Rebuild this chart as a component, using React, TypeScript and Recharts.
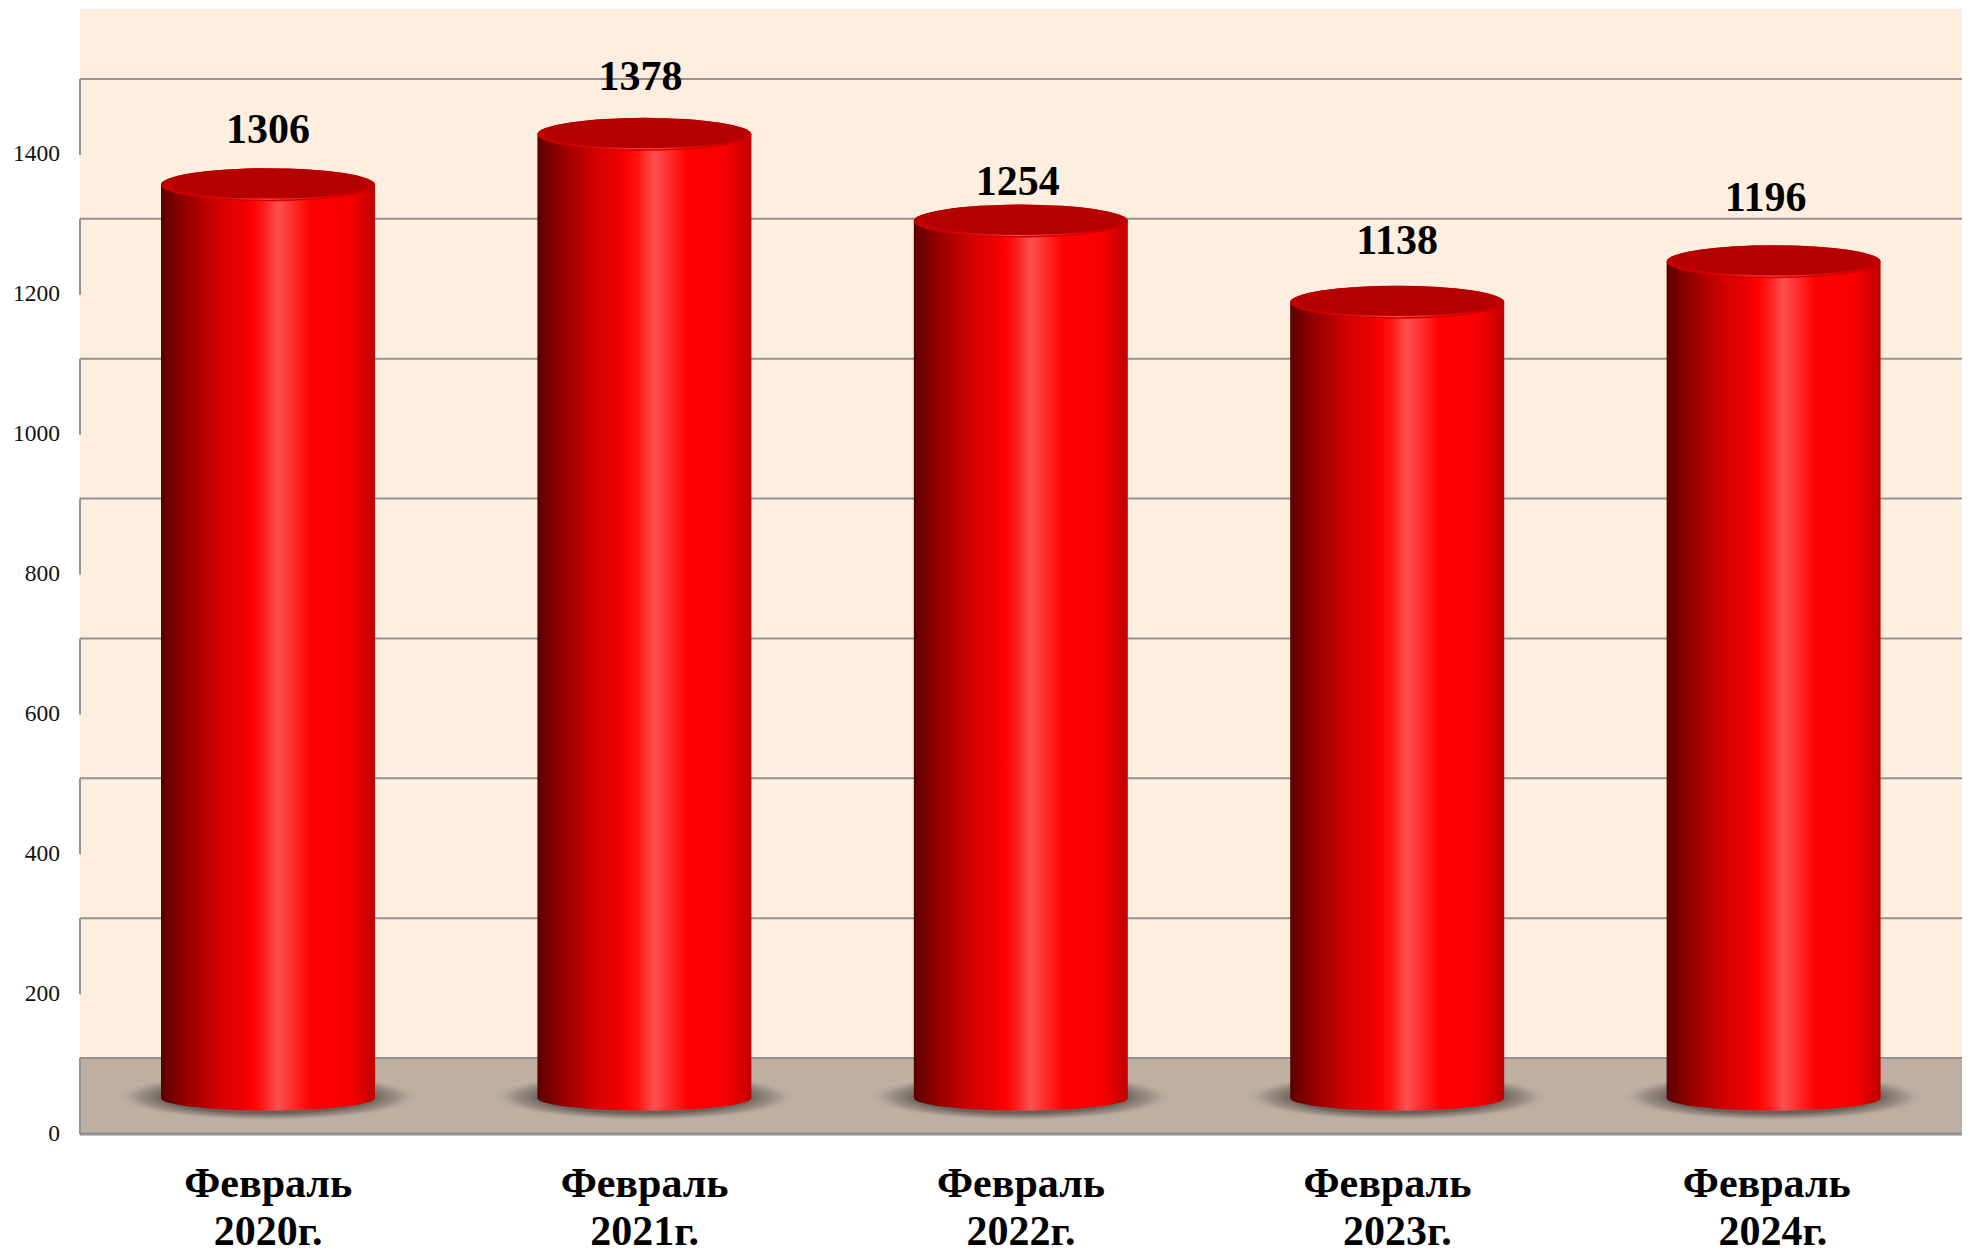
import React from "react";
import { ComposedChart, Bar, XAxis, YAxis, ReferenceArea, ReferenceLine } from "recharts";

const months = ["Февраль", "Февраль", "Февраль", "Февраль", "Февраль"];
const years = ["2020г.", "2021г.", "2022г.", "2023г.", "2024г."];
const values = [1306, 1378, 1254, 1138, 1196];
const frontTicks = [0, 200, 400, 600, 800, 1000, 1200, 1400];
const wallLines = [0, 200, 400, 600, 800, 1000, 1200, 1400];

const chartData = years.map((year, i) => ({ label: `${months[i]}\n${year}`, value: values[i] }));

// All three y axes share one px-per-unit scale; they differ only in where their zero sits (3D look).
const W = 1970, H = 1253, TOP = 9, BOTTOM_Y = 1134;
const PX_PER_UNIT = 0.6993;
const domainFor = (zeroY: number): [number, number] => [
  zeroY === BOTTOM_Y ? 0 : -(BOTTOM_Y - zeroY) / PX_PER_UNIT,
  (zeroY - TOP) / PX_PER_UNIT,
];
const frontDomain = domainFor(BOTTOM_Y);
const barDomain = domainFor(1098);
const wallDomain = domainFor(1058);
const WALL_OFFSET_PX = 75;

const labelNudgeX = [0, -4, -3, 0, -8];
const labelNudgeY = [-42, -44, -26, -48, -51];
const monthNudgeX = [0, 0, 0, -10, -7];
const yearNudgeX = [0, 0, 0, 0, -1];

const SERIF = "'Liberation Serif', 'Times New Roman', serif";
const GRID = "#949290";

const Cylinder = (props: any) => {
  const { x, y, width, height } = props;
  const rx = width / 2;
  const cx = x + rx;
  const base = y + height;
  const ryTop = 16.5;
  const ryBottom = 12.5;
  const body = `M${x},${y} L${x},${base} A${rx},${ryBottom} 0 0 0 ${x + width},${base} L${x + width},${y} A${rx},${ryTop} 0 0 0 ${x},${y} Z`;
  return (
    <g>
      <ellipse cx={cx} cy={base - 1} rx={rx + 46} ry={24} fill="url(#baseShadow)" />
      <path d={body} fill="url(#cylBody)" />
      <ellipse cx={cx} cy={y} rx={rx} ry={ryTop} fill="url(#capFill)" />
      <path d={`M${x + 12},${y + 5.5} A${rx},${ryTop} 0 0 0 ${x + width - 12},${y + 5.5}`} fill="none" stroke="url(#capRim)" strokeWidth={1.2} />
    </g>
  );
};

const renderValueLabel = (props: any) => {
  const { x, y, width, value, index } = props;
  return (
    <text
      x={x + width / 2 + labelNudgeX[index]}
      y={y + labelNudgeY[index]}
      textAnchor="middle"
      fontFamily={SERIF}
      fontWeight="bold"
      fontSize={42}
      fill="#000"
    >
      {value}
    </text>
  );
};

const renderFrontTick = (props: any) => {
  const { y, payload } = props;
  return (
    <g>
      <line x1={80} x2={80} y1={y - WALL_OFFSET_PX - 1} y2={y} stroke={GRID} strokeWidth={2} />
      <text x={60} y={y + 6.5} textAnchor="end" fontFamily={SERIF} fontSize={23.5} fill="#111">
        {payload.value}
      </text>
    </g>
  );
};

const renderCategoryTick = (props: any) => {
  const { x, y, payload, index } = props;
  const [m, yr] = String(payload.value).split("\n");
  return (
    <g>
      <text x={x + monthNudgeX[index]} y={y + 55} textAnchor="middle" fontFamily={SERIF} fontWeight="bold" fontSize={42} fill="#000">
        {m}
      </text>
      <text x={x + yearNudgeX[index]} y={y + 103} textAnchor="middle" fontFamily={SERIF} fontWeight="bold" fontSize={42} fill="#000">
        {yr}
      </text>
    </g>
  );
};

export default function App() {
  const lineProps: any = { zIndex: 150 };
  return (
    <div style={{ position: "absolute", left: 0, top: 0, width: W, height: H, background: "#fff" }}>
      <ComposedChart
        width={W}
        height={H}
        data={chartData}
        margin={{ top: TOP, left: 0, right: 8, bottom: 0 }}
      >
        <defs>
          <linearGradient id="cylBody" x1="0" y1="0" x2="1" y2="0">
            <stop offset="0" stopColor="#5a0000" />
            <stop offset="0.1" stopColor="#900000" />
            <stop offset="0.28" stopColor="#d60000" />
            <stop offset="0.37" stopColor="#e80000" />
            <stop offset="0.42" stopColor="#ff0000" />
            <stop offset="0.47" stopColor="#ff1515" />
            <stop offset="0.545" stopColor="#ff5050" />
            <stop offset="0.64" stopColor="#ff2020" />
            <stop offset="0.7" stopColor="#ff0000" />
            <stop offset="0.88" stopColor="#f80000" />
            <stop offset="1" stopColor="#c00000" />
          </linearGradient>
          <radialGradient id="capFill" cx="0.5" cy="0.45" r="0.55">
            <stop offset="0" stopColor="#b30000" />
            <stop offset="0.82" stopColor="#b50000" />
            <stop offset="0.94" stopColor="#cc0000" />
            <stop offset="1" stopColor="#dc0000" />
          </radialGradient>
          <linearGradient id="capRim" x1="0" y1="0" x2="1" y2="0">
            <stop offset="0" stopColor="#d00000" stopOpacity="0" />
            <stop offset="0.5" stopColor="#ff4a4a" />
            <stop offset="1" stopColor="#ff0000" stopOpacity="0" />
          </linearGradient>
          <radialGradient id="baseShadow" cx="0.5" cy="0.5" r="0.5">
            <stop offset="0" stopColor="#5e5650" />
            <stop offset="0.68" stopColor="#6b625b" />
            <stop offset="0.85" stopColor="#8f857b" stopOpacity="0.7" />
            <stop offset="1" stopColor="#bfafa2" stopOpacity="0" />
          </radialGradient>
        </defs>
        <XAxis dataKey="label" axisLine={false} tickLine={false} height={119} interval={0} tick={renderCategoryTick} />
        <YAxis
          yAxisId="front"
          width={80}
          domain={frontDomain}
          allowDataOverflow
          ticks={frontTicks}
          interval={0}
          axisLine={false}
          tickLine={false}
          tick={renderFrontTick}
        />
        <YAxis yAxisId="bars" hide domain={barDomain} allowDataOverflow />
        <YAxis yAxisId="wall" hide domain={wallDomain} allowDataOverflow />
        <ReferenceArea yAxisId="wall" y1={0} y2={wallDomain[1]} fill="#feeedf" fillOpacity={1} stroke="none" />
        <ReferenceArea yAxisId="wall" y1={wallDomain[0]} y2={0} fill="#bfafa2" fillOpacity={1} stroke="none" />
        {wallLines.map((v) => (
          <ReferenceLine key={v} yAxisId="wall" y={v} stroke={GRID} strokeWidth={2} {...lineProps} />
        ))}
        <ReferenceLine yAxisId="front" y={0} stroke={GRID} strokeWidth={3} {...lineProps} />
        <Bar
          yAxisId="bars"
          dataKey="value"
          barSize={214}
          isAnimationActive={false}
          shape={<Cylinder />}
          label={renderValueLabel}
        />
      </ComposedChart>
    </div>
  );
}
